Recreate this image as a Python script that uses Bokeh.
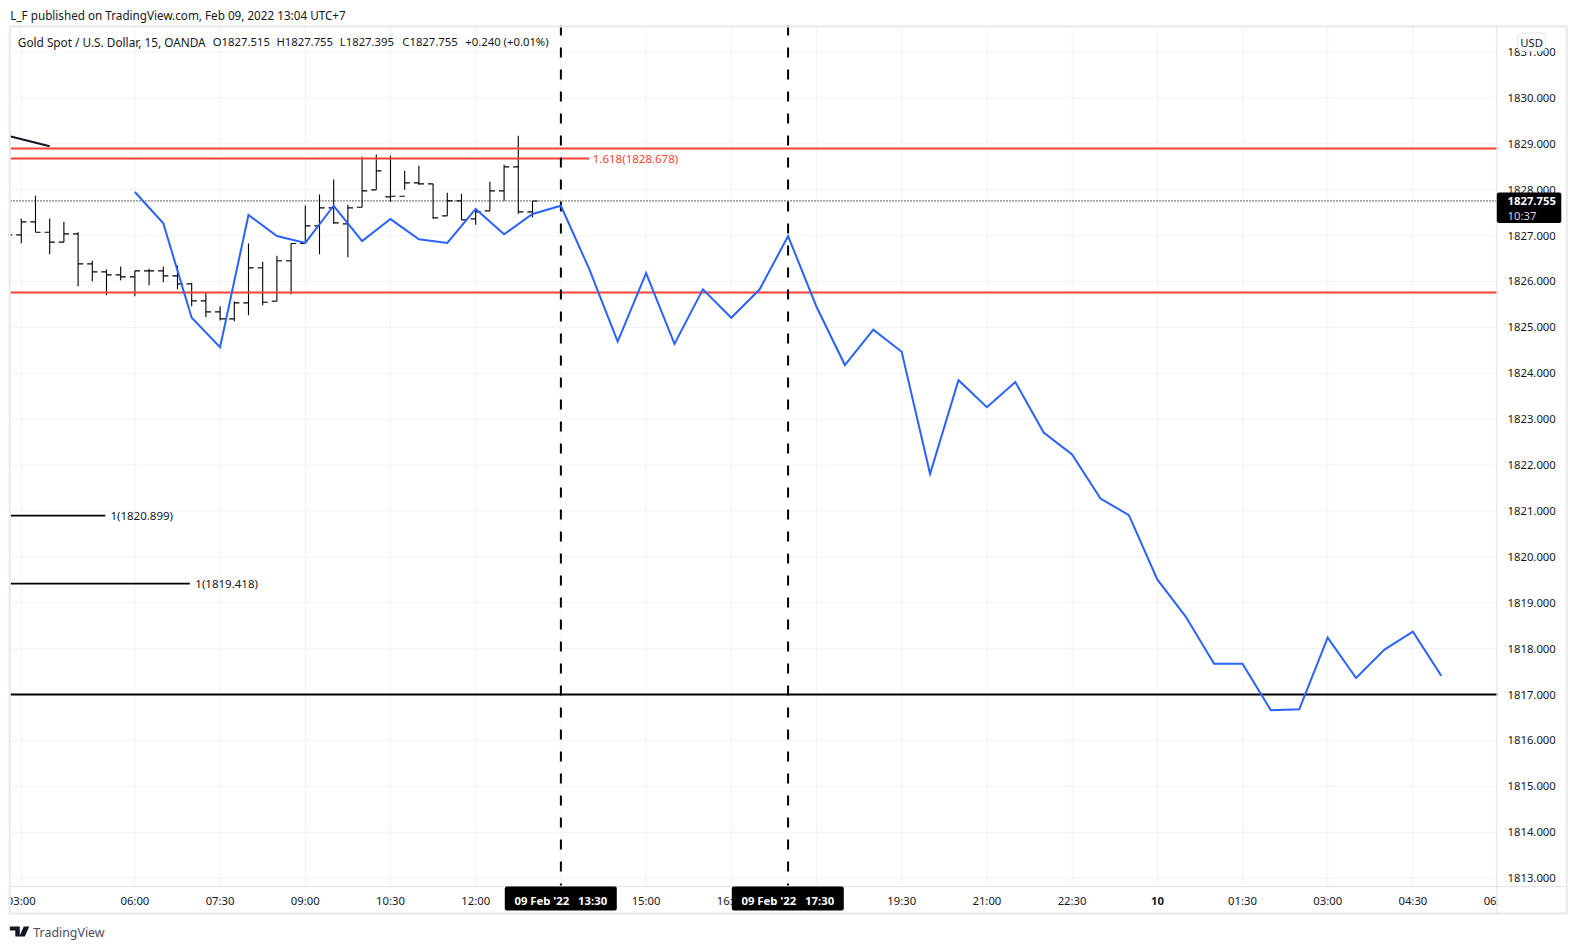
from bokeh.plotting import figure
from bokeh.models import (Range1d, FixedTicker, BoxAnnotation, Label, PolyAnnotation,
                          ColumnDataSource, PrintfTickFormatter)
from bokeh.embed import file_html
from bokeh.resources import INLINE

# ---------- data ----------
bar_index = list(range(-1, 37))
opens = [1827.05, 1827.016, 1827.300, 1827.074, 1826.857, 1827.038, 1826.384, 1826.210, 1826.145,
         1826.101, 1826.232, 1826.232, 1826.123, 1825.949, 1825.578, 1825.339, 1825.186, 1825.535,
         1826.297, 1825.571, 1826.450, 1826.827, 1827.212, 1827.605, 1827.256, 1827.619, 1827.997,
         1827.844, 1827.856, 1828.149, 1828.127, 1827.430, 1827.757, 1827.365, 1827.539, 1827.975,
         1828.498, 1827.517]
highs = [1827.10, 1827.372, 1827.866, 1827.372, 1827.300, 1827.074, 1826.450, 1826.261, 1826.326,
         1826.232, 1826.276, 1826.326, 1826.348, 1825.971, 1825.753, 1825.462, 1825.571, 1826.827,
         1826.428, 1826.559, 1826.827, 1827.655, 1827.895, 1828.222, 1827.670, 1828.716, 1828.766,
         1828.737, 1828.411, 1828.520, 1828.127, 1827.931, 1827.910, 1827.583, 1828.171, 1828.541,
         1829.173, 1827.755]
lows = [1826.90, 1826.835, 1827.074, 1826.595, 1826.857, 1825.898, 1826.007, 1825.702, 1826.029,
        1825.680, 1825.920, 1825.985, 1825.833, 1825.462, 1825.223, 1825.150, 1825.135, 1825.266,
        1825.484, 1825.571, 1825.724, 1826.842, 1826.595, 1827.256, 1826.530, 1827.619, 1827.997,
        1827.735, 1827.997, 1828.106, 1827.365, 1827.430, 1827.343, 1827.234, 1827.539, 1827.757,
        1827.474, 1827.395]
closes = [1827.016, 1827.300, 1827.074, 1826.857, 1827.038, 1826.384, 1826.210, 1826.145, 1826.101,
          1826.232, 1826.232, 1826.123, 1825.949, 1825.578, 1825.339, 1825.186, 1825.535, 1826.297,
          1825.549, 1826.450, 1826.827, 1827.212, 1827.605, 1827.278, 1827.605, 1827.975, 1828.411,
          1827.856, 1828.149, 1828.127, 1827.387, 1827.757, 1827.343, 1827.517, 1827.975, 1828.498,
          1827.517, 1827.755]

forecast_start = 8
forecast_step = 2
forecast = [1827.95, 1827.27, 1825.21, 1824.57, 1827.45, 1826.99, 1826.84, 1827.65, 1826.88, 1827.36,
            1826.92, 1826.84, 1827.58, 1827.03, 1827.47, 1827.65, 1826.27, 1824.69, 1826.18, 1824.64,
            1825.83, 1825.21, 1825.83, 1826.99, 1825.45, 1824.18, 1824.95, 1824.47, 1821.81, 1823.85,
            1823.26, 1823.81, 1822.71, 1822.23, 1821.27, 1820.91, 1819.51, 1818.70, 1817.67, 1817.67,
            1816.66, 1816.68, 1818.24, 1817.36, 1817.98, 1818.37, 1817.41]

x_ticks = [0, 8, 14, 20, 26, 32, 38, 44, 50, 56, 62, 68, 74, 80, 86, 92, 98, 104]
x_labels = ["03:00", "06:00", "07:30", "09:00", "10:30", "12:00", "13:30", "15:00", "16:30",
            "18:00", "19:30", "21:00", "22:30", "10", "01:30", "03:00", "04:30", "06:00"]
y_ticks = list(range(1813, 1832))

last_price = 1827.755
red_full = [1828.897, 1825.76]
red_fib = 1828.678
black_level = 1817.0
fib_a = 1820.899
fib_b = 1819.418
fib_a_end = 5.92
fib_b_end = 11.87
fib_red_end = 40.0
trend_x = [-0.81, 2.0]
trend_y = [1829.166, 1828.948]
vlines = [38, 54]

# visible pane limits, in data units
X0, X1 = -0.76, 103.96
Y0, Y1 = 1812.84, 1831.58

FONT = "Noto Sans"
TXT = "#131722"
SZ = "11.3px"

W, H = 1569, 942
def sx(x): return x - 0.7
def sy(y): return H - y + 1

p = figure(width=W, height=H, output_backend="svg", toolbar_location=None,
           x_range=Range1d(-1.464, 109.03), y_range=Range1d(1811.599, 1832.122),
           y_axis_location="right", min_border_left=0, min_border_top=0,
           min_border_right=0, min_border_bottom=0, background_fill_color="white",
           border_fill_color="white", outline_line_color=None)

# axes: real axes pinned to the pane edges
xa = p.xaxis[0]
xa.fixed_location = Y0
xa.ticker = FixedTicker(ticks=x_ticks)
xa.major_label_overrides = {k: (l if l != "10" else " ") for k, l in zip(x_ticks, x_labels)}
ya = p.yaxis[0]
ya.fixed_location = X1
ya.ticker = FixedTicker(ticks=y_ticks)
ya.formatter = PrintfTickFormatter(format="%.3f")
for a in (xa, ya):
    a.axis_line_color = None
    a.major_tick_line_color = None
    a.minor_tick_line_color = None
    a.major_tick_out = 0
    a.major_tick_in = 0
    a.minor_tick_out = 0
    a.minor_tick_in = 0
    a.major_label_text_font = FONT
    a.major_label_text_font_size = SZ
    a.major_label_text_color = TXT
xa.major_label_standoff = 7
ya.major_label_standoff = 10
p.grid.visible = False

# grid
grid_vx = [t for t in x_ticks if X0 < t < X1]
p.segment(grid_vx, [Y0] * len(grid_vx), grid_vx, [Y1] * len(grid_vx), line_color="#f0f3fa", line_width=1)
p.segment([X0] * len(y_ticks), y_ticks, [X1] * len(y_ticks), y_ticks, line_color="#f0f3fa", line_width=1)

# OHLC bars
src = ColumnDataSource(dict(x=bar_index, o=opens, h=highs, l=lows, c=closes,
                            xl=[k - 0.36 for k in bar_index], xr=[k + 0.36 for k in bar_index]))
p.segment("x", "l", "x", "h", source=src, line_color="black", line_width=1.1)
p.segment("xl", "o", "x", "o", source=src, line_color="black", line_width=1.1)
p.segment("x", "c", "xr", "c", source=src, line_color="black", line_width=1.1)

# levels
p.line([X0, X1], [last_price, last_price], line_color="black", line_width=1.2, line_dash="1 2")
for lv in red_full:
    p.line([X0, X1], [lv, lv], line_color="#f44336", line_width=2)
p.line([X0, fib_red_end], [red_fib, red_fib], line_color="#f44336", line_width=2)
p.line([X0, fib_a_end], [fib_a, fib_a], line_color="black", line_width=1.7)
p.line([X0, fib_b_end], [fib_b, fib_b], line_color="black", line_width=1.7)
p.line(trend_x, trend_y, line_color="#131722", line_width=2)
p.line([X0, X1], [black_level, black_level], line_color="black", line_width=2)
for v in vlines:
    p.line([v, v], [Y1, Y0], line_color="black", line_width=2, line_dash="10 12")

# forecast line
p.line([forecast_start + forecast_step * i for i in range(len(forecast))], forecast,
       line_color="#2962ff", line_width=2, line_join="miter")

def label(x, y, text, color=TXT, size=SZ, style="normal", align="left", level="overlay"):
    p.add_layout(Label(x=sx(x), y=sy(y), x_units="screen", y_units="screen", text=text,
                       text_color=color, text_font=FONT, text_font_size=size, text_font_style=style,
                       text_align=align, text_baseline="middle", level=level))

def box(l, r, t, b, fill="black", line=None, lw=1, radius=0):
    p.add_layout(BoxAnnotation(left=sx(l), right=sx(r), top=sy(t), bottom=sy(b),
                               left_units="screen", right_units="screen", top_units="screen", bottom_units="screen",
                               fill_color=fill, fill_alpha=1 if fill else 0, line_color=line, line_width=lw,
                               line_alpha=1 if line else 0, border_radius=radius, level="overlay"))

# frame and masks for what the pane cuts off
box(0, 9, 20, 915, fill="white")
box(1498, 1566, 888, 913, fill="white")
box(10, 1567, 27, 914, fill=None, line="#e6e8ee", lw=2)
box(1496.5, 1497.5, 27, 914, fill="#e0e3eb")
box(10, 1567, 886.5, 887.5, fill="#e0e3eb")

# header and labels
label(10.5, 15, "L_F published on TradingView.com, Feb 09, 2022 13:04 UTC+7", size="11.7px")
label(18, 42, "Gold Spot / U.S. Dollar, 15, OANDA", size="11.8px")
label(213, 42, "O1827.515")
label(276.6, 42, "H1827.755")
label(340, 42, "L1827.395")
label(402.5, 42, "C1827.755")
label(465.5, 42, "+0.240 (+0.01%)")
label(593, 159, "1.618(1828.678)", color="#f44336", size="11.5px")
label(110.6, 516, "1(1820.899)", size="11.5px")
label(195.5, 584, "1(1819.418)", size="11.5px")
label(1157.7, 901, "10", style="bold", align="center")

# price tag, USD button
box(1497, 1561.5, 193, 223.5, fill="black", radius=2)
label(1507.7, 201.5, "1827.755", color="white", style="bold")
label(1507.7, 215.5, "10:37", color="#d8d8d8")
box(1518, 1545.5, 33.5, 51.5, fill="white", line="#e0e3eb", radius=4)
label(1531.8, 42.5, "USD", align="center")

# time tags
box(505, 617, 887, 911, fill="black", radius=2)
label(561, 901, "09 Feb '22\u00a0\u00a0\u00a013:30", color="white", style="bold", align="center")
box(732, 844, 887, 911, fill="black", radius=2)
label(788, 901, "09 Feb '22\u00a0\u00a0\u00a017:30", color="white", style="bold", align="center")

# TradingView mark
logo_shapes = [
    ([10, 20, 20, 15.5, 15.5, 10], [927, 927, 937, 937, 931, 931]),
    ([24, 29.5, 25, 19.5], [927, 927, 937, 937]),
]
for xs, ys in logo_shapes:
    p.add_layout(PolyAnnotation(xs=[sx(v) for v in xs], ys=[sy(v) for v in ys], xs_units="screen", ys_units="screen",
                                fill_color="#131722", fill_alpha=1, line_color=None, level="overlay"))
label(33.5, 932.5, "TradingView", color="#4a4e5a", size="12.4px")

open("out.html", "w").write(file_html(p, INLINE))
